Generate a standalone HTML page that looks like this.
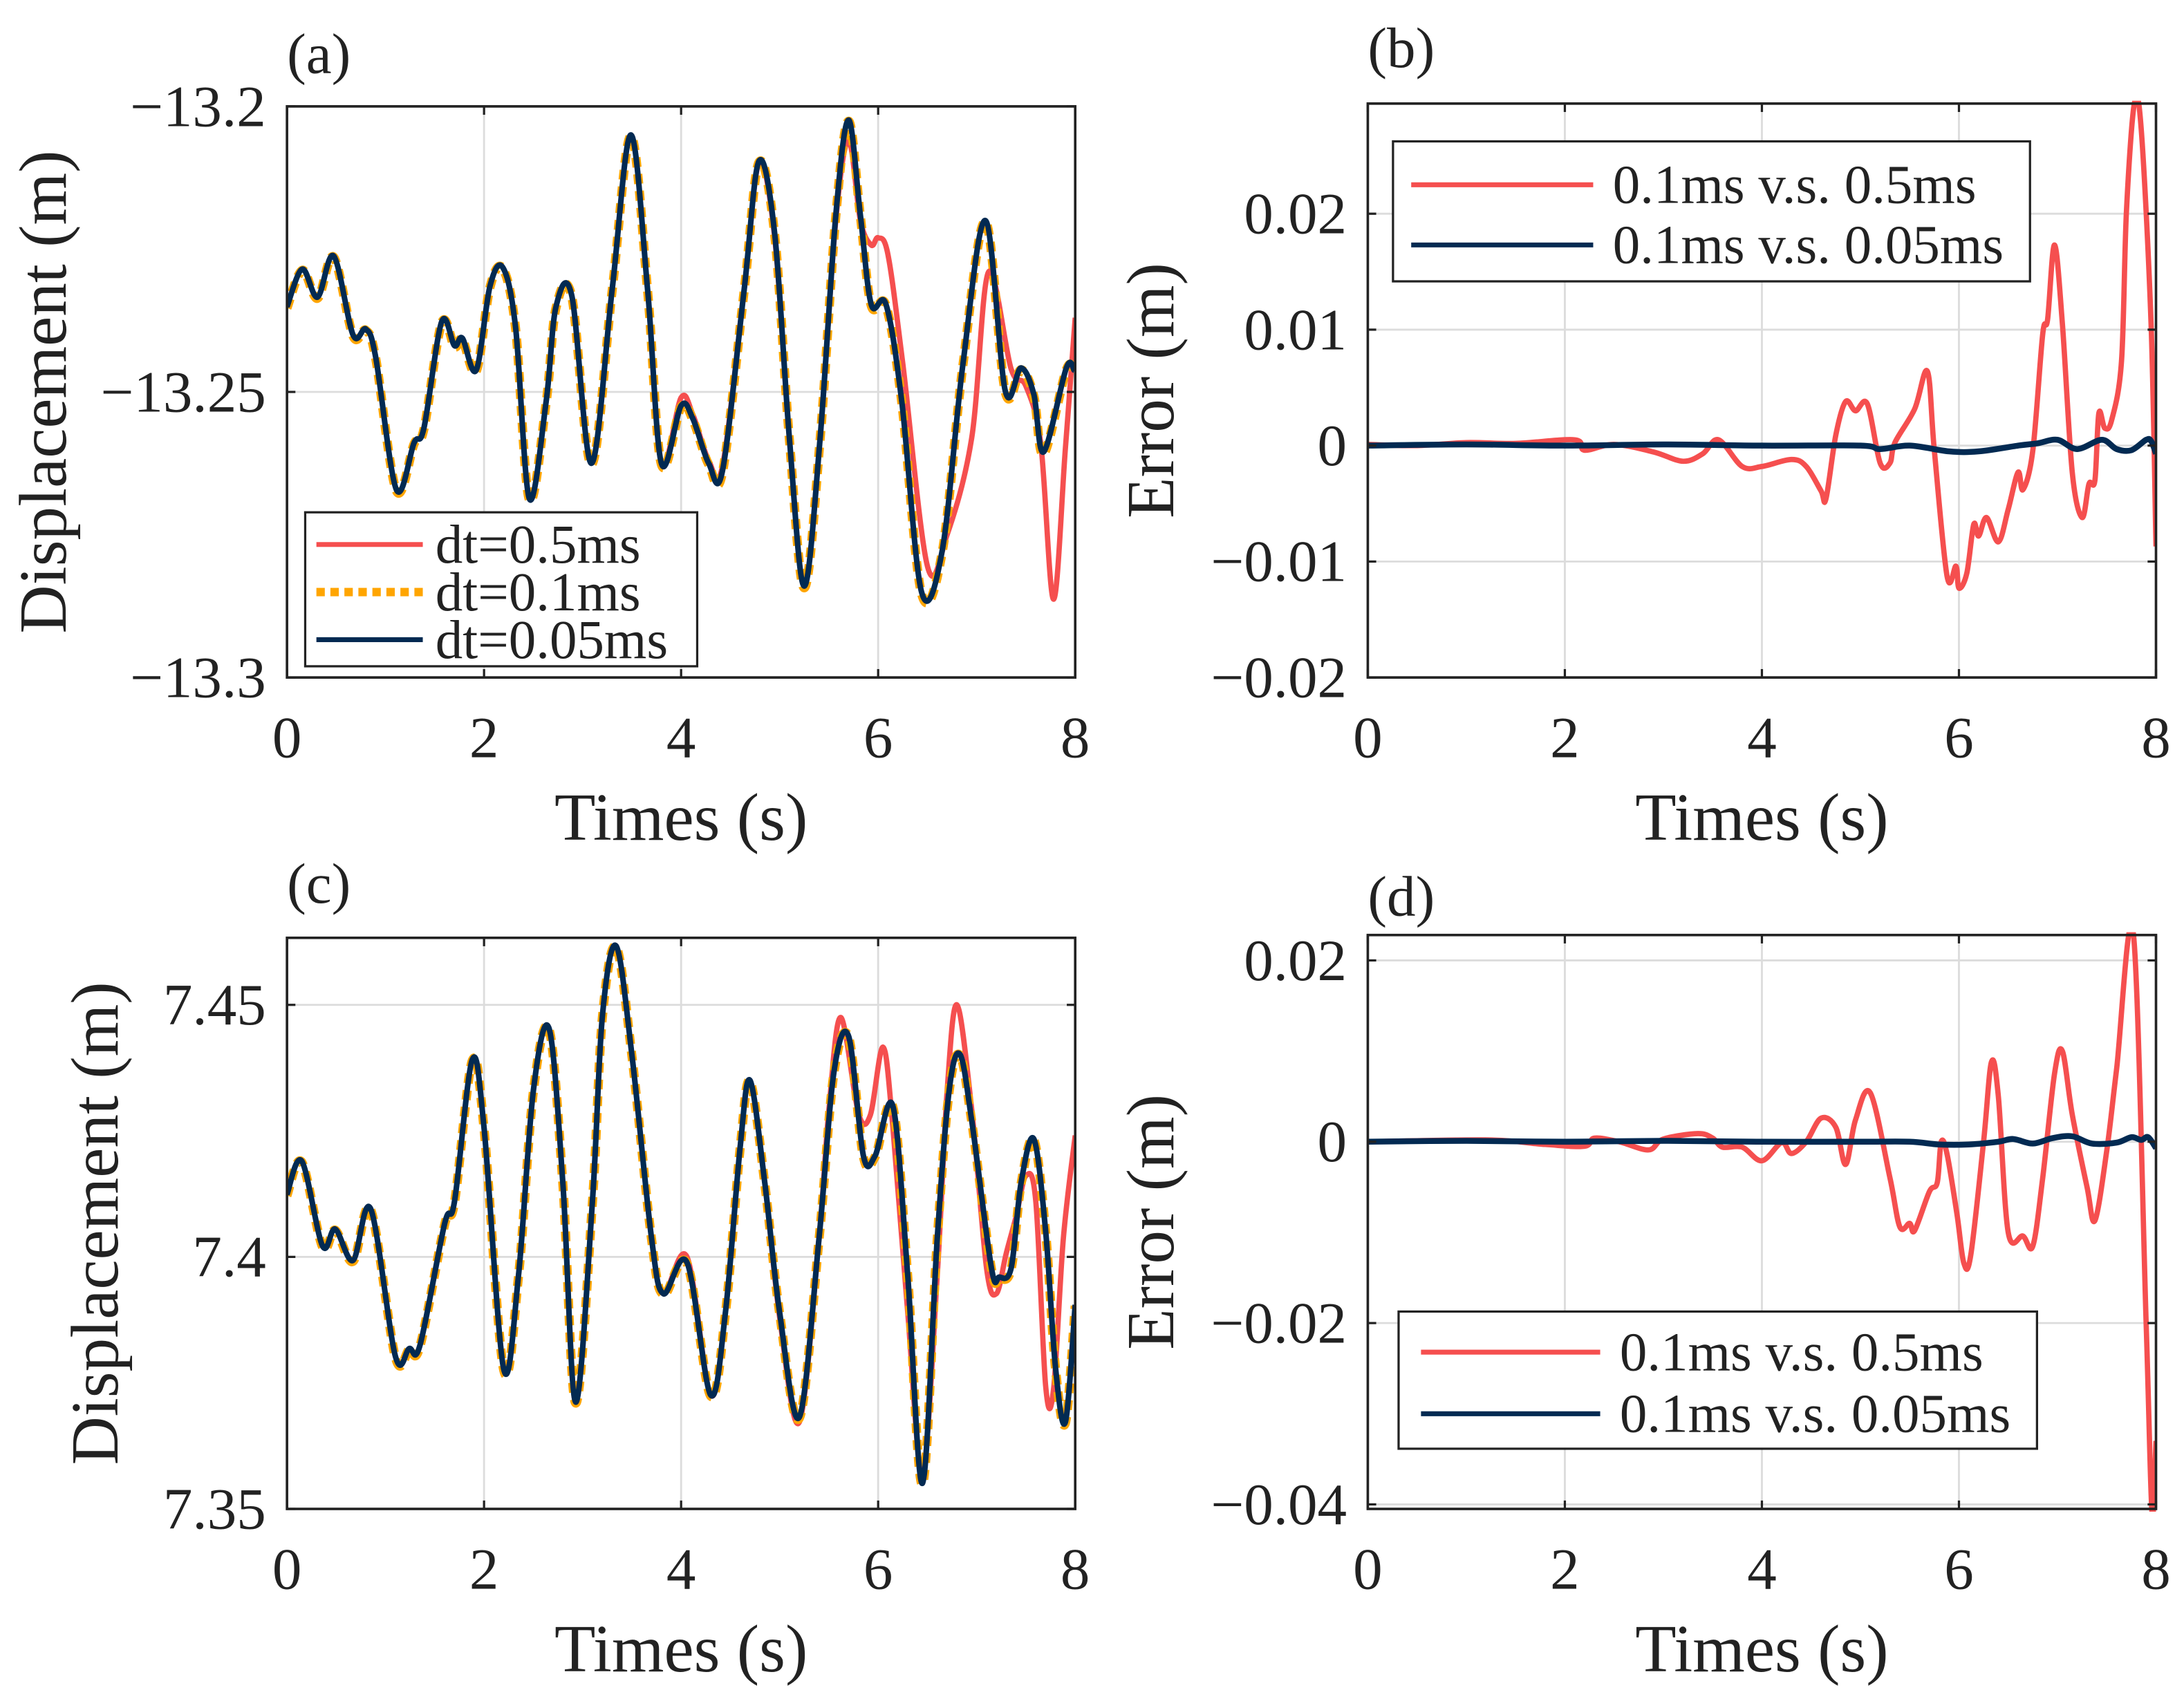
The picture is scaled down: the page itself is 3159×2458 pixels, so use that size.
<!DOCTYPE html>
<html><head><meta charset="utf-8">
<style>
html,body{margin:0;padding:0;background:#fff;}
svg{display:block;}
text{font-family:"Liberation Serif","DejaVu Serif",serif;fill:#222;}
</style></head>
<body>
<svg id="fig" width="3159" height="2458" viewBox="0 0 1560 1213.8" preserveAspectRatio="none" xmlns="http://www.w3.org/2000/svg"></svg>
<script>
// ---------- data ----------
const xTicks = [0, 2, 4, 6, 8];
// panel (a)
const aTime = [0,0.155,0.31,0.474,0.67,0.8,0.9,1.11,1.29,1.39,1.57,1.7,1.78,1.92,2.06,2.19,2.32,2.46,2.63,2.73,2.89,3.09,3.3,3.49,3.66,3.8,4.0,4.12,4.28,4.42,4.64,4.79,4.95,5.1,5.25,5.41,5.57,5.7,5.82,5.93,6.08,6.24,6.44,6.65,6.86,7.09,7.29,7.45,7.58,7.68,7.91,7.99];
const aFine = [-13.2351,-13.2285,-13.2334,-13.2262,-13.2400,-13.2390,-13.2439,-13.2671,-13.2589,-13.2563,-13.2377,-13.2419,-13.2406,-13.2462,-13.2315,-13.2282,-13.2387,-13.2687,-13.2517,-13.2351,-13.2331,-13.2625,-13.2321,-13.2050,-13.2321,-13.2625,-13.2524,-13.2547,-13.2625,-13.2638,-13.2321,-13.2096,-13.2223,-13.2583,-13.2840,-13.2583,-13.2191,-13.2024,-13.2191,-13.2347,-13.2347,-13.2517,-13.2850,-13.2778,-13.2452,-13.2200,-13.2498,-13.2458,-13.2504,-13.2605,-13.2458,-13.2462];
const aMid = [-13.2353,-13.2287,-13.2336,-13.2264,-13.2402,-13.2392,-13.2441,-13.2673,-13.2591,-13.2565,-13.2379,-13.2421,-13.2408,-13.2464,-13.2317,-13.2284,-13.2389,-13.2689,-13.2519,-13.2353,-13.2333,-13.2627,-13.2323,-13.2052,-13.2323,-13.2627,-13.2526,-13.2549,-13.2627,-13.2641,-13.2323,-13.2098,-13.2225,-13.2585,-13.2843,-13.2585,-13.2193,-13.2026,-13.2193,-13.2349,-13.2349,-13.2519,-13.2853,-13.2781,-13.2454,-13.2202,-13.2500,-13.2461,-13.2507,-13.2609,-13.2461,-13.2465];
const aCoarseTime = [0,0.155,0.31,0.474,0.67,0.8,0.9,1.11,1.29,1.39,1.57,1.7,1.78,1.92,2.06,2.19,2.32,2.46,2.63,2.73,2.89,3.09,3.3,3.49,3.66,3.8,4.0,4.12,4.28,4.42,4.64,4.79,4.95,5.1,5.25,5.41,5.57,5.7,5.82,5.93,6.0,6.1,6.25,6.5,6.7,6.95,7.12,7.35,7.5,7.65,7.78,7.9,8.0];
const aCoarse = [-13.2351,-13.2285,-13.2334,-13.2262,-13.2400,-13.2390,-13.2439,-13.2671,-13.2589,-13.2563,-13.2377,-13.2419,-13.2406,-13.2462,-13.2315,-13.2282,-13.2387,-13.2687,-13.2517,-13.2351,-13.2331,-13.2625,-13.2321,-13.2050,-13.2321,-13.2625,-13.2510,-13.2540,-13.2620,-13.2630,-13.2321,-13.2100,-13.2230,-13.2583,-13.2840,-13.2583,-13.2200,-13.2060,-13.2200,-13.2243,-13.2230,-13.2260,-13.2450,-13.2805,-13.2750,-13.2580,-13.2290,-13.2460,-13.2490,-13.2590,-13.2863,-13.2600,-13.2370];
const aTicks = [-13.3, -13.25, -13.2];
const aTickLabels = ["\u221213.3", "\u221213.25", "\u221213.2"];
// panel (b)
const bTime = [0,0.5,1,1.5,2.1,2.2,2.5,2.9,3.2,3.4,3.56,3.8,4.0,4.3,4.45,4.6,4.65,4.75,4.85,4.95,5.07,5.2,5.3,5.35,5.55,5.68,5.75,5.88,5.97,6.0,6.08,6.15,6.2,6.28,6.4,6.5,6.6,6.65,6.75,6.85,6.9,6.97,7.05,7.15,7.25,7.32,7.38,7.42,7.48,7.55,7.65,7.7,7.78,7.85,7.95,8.0];
const bCoarseErr = [0.0001,0,0.00026,0.00019,0.0005,-0.0004,0.0001,-0.00055,-0.00135,-0.0007,0.0005,-0.0018,-0.0018,-0.0012,-0.0018,-0.0039,-0.0046,0.0009,0.0038,0.003,0.0036,-0.0015,-0.0015,0.00026,0.00315,0.0064,-0.0004,-0.0113,-0.0104,-0.0123,-0.011,-0.0068,-0.0078,-0.0062,-0.0083,-0.0055,-0.0023,-0.0038,-0.0004,0.0096,0.0109,0.0173,0.0105,-0.0023,-0.0062,-0.0033,-0.003,0.0028,0.0015,0.0022,0.0073,0.0202,0.0295,0.0273,0.0105,-0.0087];
const bFineTime = [0,1,2,3,4,5,5.2,5.5,5.9,6.2,6.6,6.8,7.0,7.2,7.45,7.6,7.75,7.9,7.95,8.0];
const bFineErr = [0,0.0001,0,0.0001,0,0,-0.0003,0,-0.0005,-0.0005,0,0.0002,0.0005,-0.0003,0.0005,-0.0003,-0.0004,0.0005,0.0004,-0.0007];
const bTicks = [-0.02,-0.01,0,0.01,0.02];
const bTickLabels = ["\u22120.02","\u22120.01","0","0.01","0.02"];
// panel (c)
const cTime = [0,0.15,0.36,0.49,0.67,0.85,1.1,1.24,1.35,1.6,1.7,1.88,2.0,2.2,2.35,2.5,2.66,2.8,2.93,3.1,3.2,3.34,3.5,3.7,3.82,4.06,4.3,4.45,4.6,4.7,4.85,5.0,5.2,5.4,5.55,5.7,5.85,5.97,6.15,6.3,6.45,6.6,6.72,6.83,6.95,7.15,7.23,7.35,7.45,7.58,7.7,7.8,7.9,8.0];
const cFine = [7.4124,7.4190,7.4022,7.4055,7.3993,7.4095,7.3803,7.3818,7.3825,7.4066,7.4110,7.4391,7.4256,7.3777,7.3964,7.4329,7.4453,7.4146,7.3712,7.4110,7.4475,7.4617,7.4402,7.4037,7.3927,7.3989,7.3726,7.3890,7.4219,7.4350,7.4146,7.3890,7.3682,7.4037,7.4365,7.4438,7.4201,7.4201,7.4299,7.3964,7.3551,7.4037,7.4329,7.4402,7.4270,7.3978,7.3960,7.3978,7.4146,7.4234,7.4051,7.3781,7.3672,7.3905];
const cMid = [7.4122,7.4188,7.4020,7.4053,7.3991,7.4093,7.3801,7.3816,7.3823,7.4064,7.4108,7.4389,7.4254,7.3775,7.3962,7.4327,7.4451,7.4144,7.3710,7.4108,7.4473,7.4615,7.4400,7.4035,7.3925,7.3987,7.3724,7.3888,7.4217,7.4348,7.4144,7.3888,7.3680,7.4035,7.4363,7.4436,7.4199,7.4199,7.4297,7.3962,7.3549,7.4035,7.4327,7.4400,7.4268,7.3976,7.3958,7.3976,7.4144,7.4232,7.4049,7.3779,7.3670,7.3903];
const cCoarseTime = [0,0.15,0.36,0.49,0.67,0.85,1.1,1.24,1.35,1.6,1.7,1.88,2.0,2.2,2.35,2.5,2.66,2.8,2.93,3.1,3.2,3.34,3.5,3.7,3.82,4.06,4.3,4.45,4.6,4.7,4.85,5.0,5.2,5.4,5.5,5.62,5.8,5.92,6.05,6.15,6.3,6.45,6.6,6.7,6.8,6.95,7.1,7.2,7.3,7.4,7.5,7.6,7.7,7.78,7.88,8.0];
const cCoarse = [7.4124,7.4190,7.4022,7.4055,7.3993,7.4095,7.3803,7.3818,7.3825,7.4066,7.4110,7.4391,7.4256,7.3777,7.3964,7.4329,7.4453,7.4146,7.3712,7.4110,7.4475,7.4617,7.4402,7.4037,7.3927,7.4000,7.3726,7.3890,7.4219,7.4350,7.4146,7.3880,7.3672,7.4037,7.4292,7.4475,7.4285,7.4281,7.4416,7.4256,7.3890,7.3570,7.3964,7.4329,7.4500,7.4292,7.3978,7.3927,7.4007,7.4080,7.4161,7.4110,7.3744,7.3737,7.4037,7.4241];
const cTicks = [7.35, 7.4, 7.45];
const cTickLabels = ["7.35", "7.4", "7.45"];
// panel (d)
const dTime = [0,1.2,1.8,2.2,2.3,2.55,2.85,3.0,3.35,3.5,3.6,3.8,4.0,4.2,4.3,4.45,4.6,4.75,4.85,4.95,5.1,5.3,5.4,5.5,5.55,5.7,5.78,5.82,5.88,5.98,6.05,6.12,6.25,6.33,6.4,6.5,6.65,6.75,6.85,6.97,7.05,7.15,7.3,7.38,7.5,7.6,7.77,7.9,7.96,8.0];
const dCoarseErr = [0,0.0002,-0.0003,-0.0005,0.0004,0,-0.0009,0.0003,0.0009,0.0004,-0.0006,-0.0006,-0.0021,-0.0001,-0.0013,0,0.0026,0.0016,-0.0025,0.0024,0.0054,-0.004,-0.0094,-0.009,-0.0098,-0.0055,-0.0045,0,-0.0014,-0.008,-0.0134,-0.0125,0,0.0088,0.005,-0.01,-0.0104,-0.0115,-0.004,0.0075,0.01,0.003,-0.005,-0.0087,-0.001,0.008,0.023,-0.02,-0.041,-0.033];
const dFineTime = [0,1,2,3,4,5,5.5,5.8,6.1,6.4,6.55,6.75,6.95,7.15,7.35,7.6,7.75,7.85,7.92,8.0];
const dFineErr = [0,0.0001,0,0.0001,0,0,0,-0.0003,-0.0003,0,0.0003,-0.0002,0.0004,0.0006,-0.0002,-0.0001,0.0005,0.0002,0.0005,-0.0007];
const dTicks = [-0.04,-0.02,0,0.02];
const dTickLabels = ["\u22120.04","\u22120.02","0","0.02"];

// ---------- drawing ----------
const NS = "http://www.w3.org/2000/svg";
const svg = document.getElementById("fig");
const RED = "#f54f4f", ORANGE = "#ffa500", NAVY = "#022a52";
function mk(tag, attrs, parent) {
  const e = document.createElementNS(NS, tag);
  for (const k in attrs) e.setAttribute(k, attrs[k]);
  (parent || svg).appendChild(e);
  return e;
}
function smoothPath(pts) {
  let d = "M" + pts[0][0].toFixed(2) + "," + pts[0][1].toFixed(2);
  for (let i = 0; i < pts.length - 1; i++) {
    const p0 = pts[Math.max(0, i - 1)], p1 = pts[i], p2 = pts[i + 1], p3 = pts[Math.min(pts.length - 1, i + 2)];
    const c1x = p1[0] + (p2[0] - p0[0]) / 6, c1y = p1[1] + (p2[1] - p0[1]) / 6;
    const c2x = p2[0] - (p3[0] - p1[0]) / 6, c2y = p2[1] - (p3[1] - p1[1]) / 6;
    d += "C" + c1x.toFixed(2) + "," + c1y.toFixed(2) + " " + c2x.toFixed(2) + "," + c2y.toFixed(2) + " " + p2[0].toFixed(2) + "," + p2[1].toFixed(2);
  }
  return d;
}
function panel(cfg) {
  const g = mk("g", {});
  
  
  const {L, R, T, B, ymin, ymax} = cfg;
  const xs = t => L + (t / 8) * (R - L);
  const ys = v => B - (v - ymin) / (ymax - ymin) * (B - T);
  const cid = "clip-" + cfg.name;
  const cp = mk("clipPath", {id: cid}, g);
  mk("rect", {x: L, y: T - 2, width: R - L, height: B - T + 4}, cp);
  xTicks.forEach(t => {
    const l = mk("line", {x1: xs(t), x2: xs(t), y1: T, y2: B, stroke: "#dcdcdc", "stroke-width": 1.4}, g);
    
    
  });
  cfg.yTicks.forEach(v => {
    const l = mk("line", {x1: L, x2: R, y1: ys(v), y2: ys(v), stroke: "#dcdcdc", "stroke-width": 1.4}, g);
    
    
  });
  cfg.series.forEach(s => {
    const pts = s.t.map((t, i) => [xs(t), ys(s.v[i])]);
    const p = mk("path", {d: smoothPath(pts), fill: "none", stroke: s.color, "stroke-width": s.w, "stroke-linejoin": "round", "clip-path": "url(#" + cid + ")"}, g);
    if (s.dash) p.setAttribute("stroke-dasharray", s.dash);
    
    
  });
  const box = mk("rect", {x: L, y: T, width: R - L, height: B - T, fill: "none", stroke: "#222", "stroke-width": 1.8}, g);
  
  
  xTicks.forEach(t => {
    mk("line", {x1: xs(t), x2: xs(t), y1: B, y2: B - 6, stroke: "#222", "stroke-width": 1.6}, g);
    mk("line", {x1: xs(t), x2: xs(t), y1: T, y2: T + 6, stroke: "#222", "stroke-width": 1.6}, g);
    const tx = mk("text", {x: xs(t), y: B + 57, "font-size": 42, "text-anchor": "middle"}, g);
    tx.textContent = String(t);
    
    
  });
  cfg.yTicks.forEach((v, i) => {
    mk("line", {x1: L, x2: L + 6, y1: ys(v), y2: ys(v), stroke: "#222", "stroke-width": 1.6}, g);
    mk("line", {x1: R, x2: R - 6, y1: ys(v), y2: ys(v), stroke: "#222", "stroke-width": 1.6}, g);
    const tx = mk("text", {x: L - 15, y: ys(v) + 14, "font-size": 42, "text-anchor": "end"}, g);
    tx.textContent = cfg.yLabels[i];
    
    
  });
  const xl = mk("text", {x: (L + R) / 2, y: B + 116, "font-size": 48, "text-anchor": "middle"}, g);
  xl.textContent = "Times (s)";
  
  
  const yl = mk("text", {x: 0, y: 0, "font-size": 48, "text-anchor": "middle", transform: "translate(" + cfg.ylx + "," + (T + B) / 2 + ") rotate(-90)"}, g);
  yl.textContent = cfg.yTitle;
  
  
  const pl = mk("text", {x: L, y: cfg.ply, "font-size": 41}, g);
  pl.textContent = cfg.label;
  
  
  const lg = cfg.legend;
  if (!lg) return;
  const lgG = mk("g", {}, g);
  
  
  const lb = mk("rect", {x: lg.x, y: lg.y, width: lg.w, height: lg.h, fill: "#fff", stroke: "#222", "stroke-width": 1.6}, lgG);
  
  
  lg.items.forEach((it, i) => {
    const yy = lg.rows[i];
    const ln = mk("line", {x1: lg.lx1, x2: lg.lx2, y1: yy, y2: yy, stroke: it.color, "stroke-width": it.w}, lgG);
    if (it.dash) ln.setAttribute("stroke-dasharray", "6,4");
    
    
    const tx = mk("text", {x: lg.tx, y: yy + 13, "font-size": lg.fs}, lgG);
    tx.textContent = it.text;
    
    
  });
}

panel({name: "panel-a", L: 205, R: 768, T: 76, B: 484, ymin: -13.3, ymax: -13.2,
  yTicks: aTicks, yLabels: aTickLabels, yTitle: "Displacement (m)", ylx: 47, label: "(a)", ply: 52,
  series: [
    {name: "series-dt-0.5ms", t: aCoarseTime, v: aCoarse, color: RED, w: 3.8},
    {name: "series-dt-0.1ms", t: aTime, v: aMid, color: ORANGE, w: 6.5, dash: "7,5"},
    {name: "series-dt-0.05ms", t: aTime, v: aFine, color: NAVY, w: 4}],
  legend: {x: 218, y: 366, w: 280, h: 110, lx1: 226, lx2: 302, tx: 311, rows: [389, 423, 457], fs: 39,
    items: [{text: "dt=0.5ms", color: RED, w: 3.5}, {text: "dt=0.1ms", color: ORANGE, w: 6, dash: 1}, {text: "dt=0.05ms", color: NAVY, w: 3.5}]}
});
panel({name: "panel-b", L: 977, R: 1540, T: 74, B: 484, ymin: -0.02, ymax: 0.0295,
  yTicks: bTicks, yLabels: bTickLabels, yTitle: "Error (m)", ylx: 838, label: "(b)", ply: 48,
  series: [
    {name: "series-err-0.5ms", t: bTime, v: bCoarseErr, color: RED, w: 3.8},
    {name: "series-err-0.05ms", t: bFineTime, v: bFineErr, color: NAVY, w: 4.2}],
  legend: {x: 995, y: 101, w: 455, h: 100, lx1: 1008, lx2: 1138, tx: 1152, rows: [132, 175], fs: 39,
    items: [{text: "0.1ms v.s. 0.5ms", color: RED, w: 3.5}, {text: "0.1ms v.s. 0.05ms", color: NAVY, w: 3.5}]}
});
panel({name: "panel-c", L: 205, R: 768, T: 670, B: 1078, ymin: 7.35, ymax: 7.4633,
  yTicks: cTicks, yLabels: cTickLabels, yTitle: "Displacement (m)", ylx: 84, label: "(c)", ply: 645,
  series: [
    {name: "series-dt-0.5ms", t: cCoarseTime, v: cCoarse, color: RED, w: 3.8},
    {name: "series-dt-0.1ms", t: cTime, v: cMid, color: ORANGE, w: 6.5, dash: "7,5"},
    {name: "series-dt-0.05ms", t: cTime, v: cFine, color: NAVY, w: 4}],
  legend: null
});
panel({name: "panel-d", L: 977, R: 1540, T: 668, B: 1078, ymin: -0.0405, ymax: 0.0228,
  yTicks: dTicks, yLabels: dTickLabels, yTitle: "Error (m)", ylx: 838, label: "(d)", ply: 654,
  series: [
    {name: "series-err-0.5ms", t: dTime, v: dCoarseErr, color: RED, w: 3.8},
    {name: "series-err-0.05ms", t: dFineTime, v: dFineErr, color: NAVY, w: 4.2}],
  legend: {x: 999, y: 937, w: 456, h: 98, lx1: 1015, lx2: 1143, tx: 1157, rows: [966, 1010], fs: 39,
    items: [{text: "0.1ms v.s. 0.5ms", color: RED, w: 3.5}, {text: "0.1ms v.s. 0.05ms", color: NAVY, w: 3.5}]}
});
</script>
</body></html>
